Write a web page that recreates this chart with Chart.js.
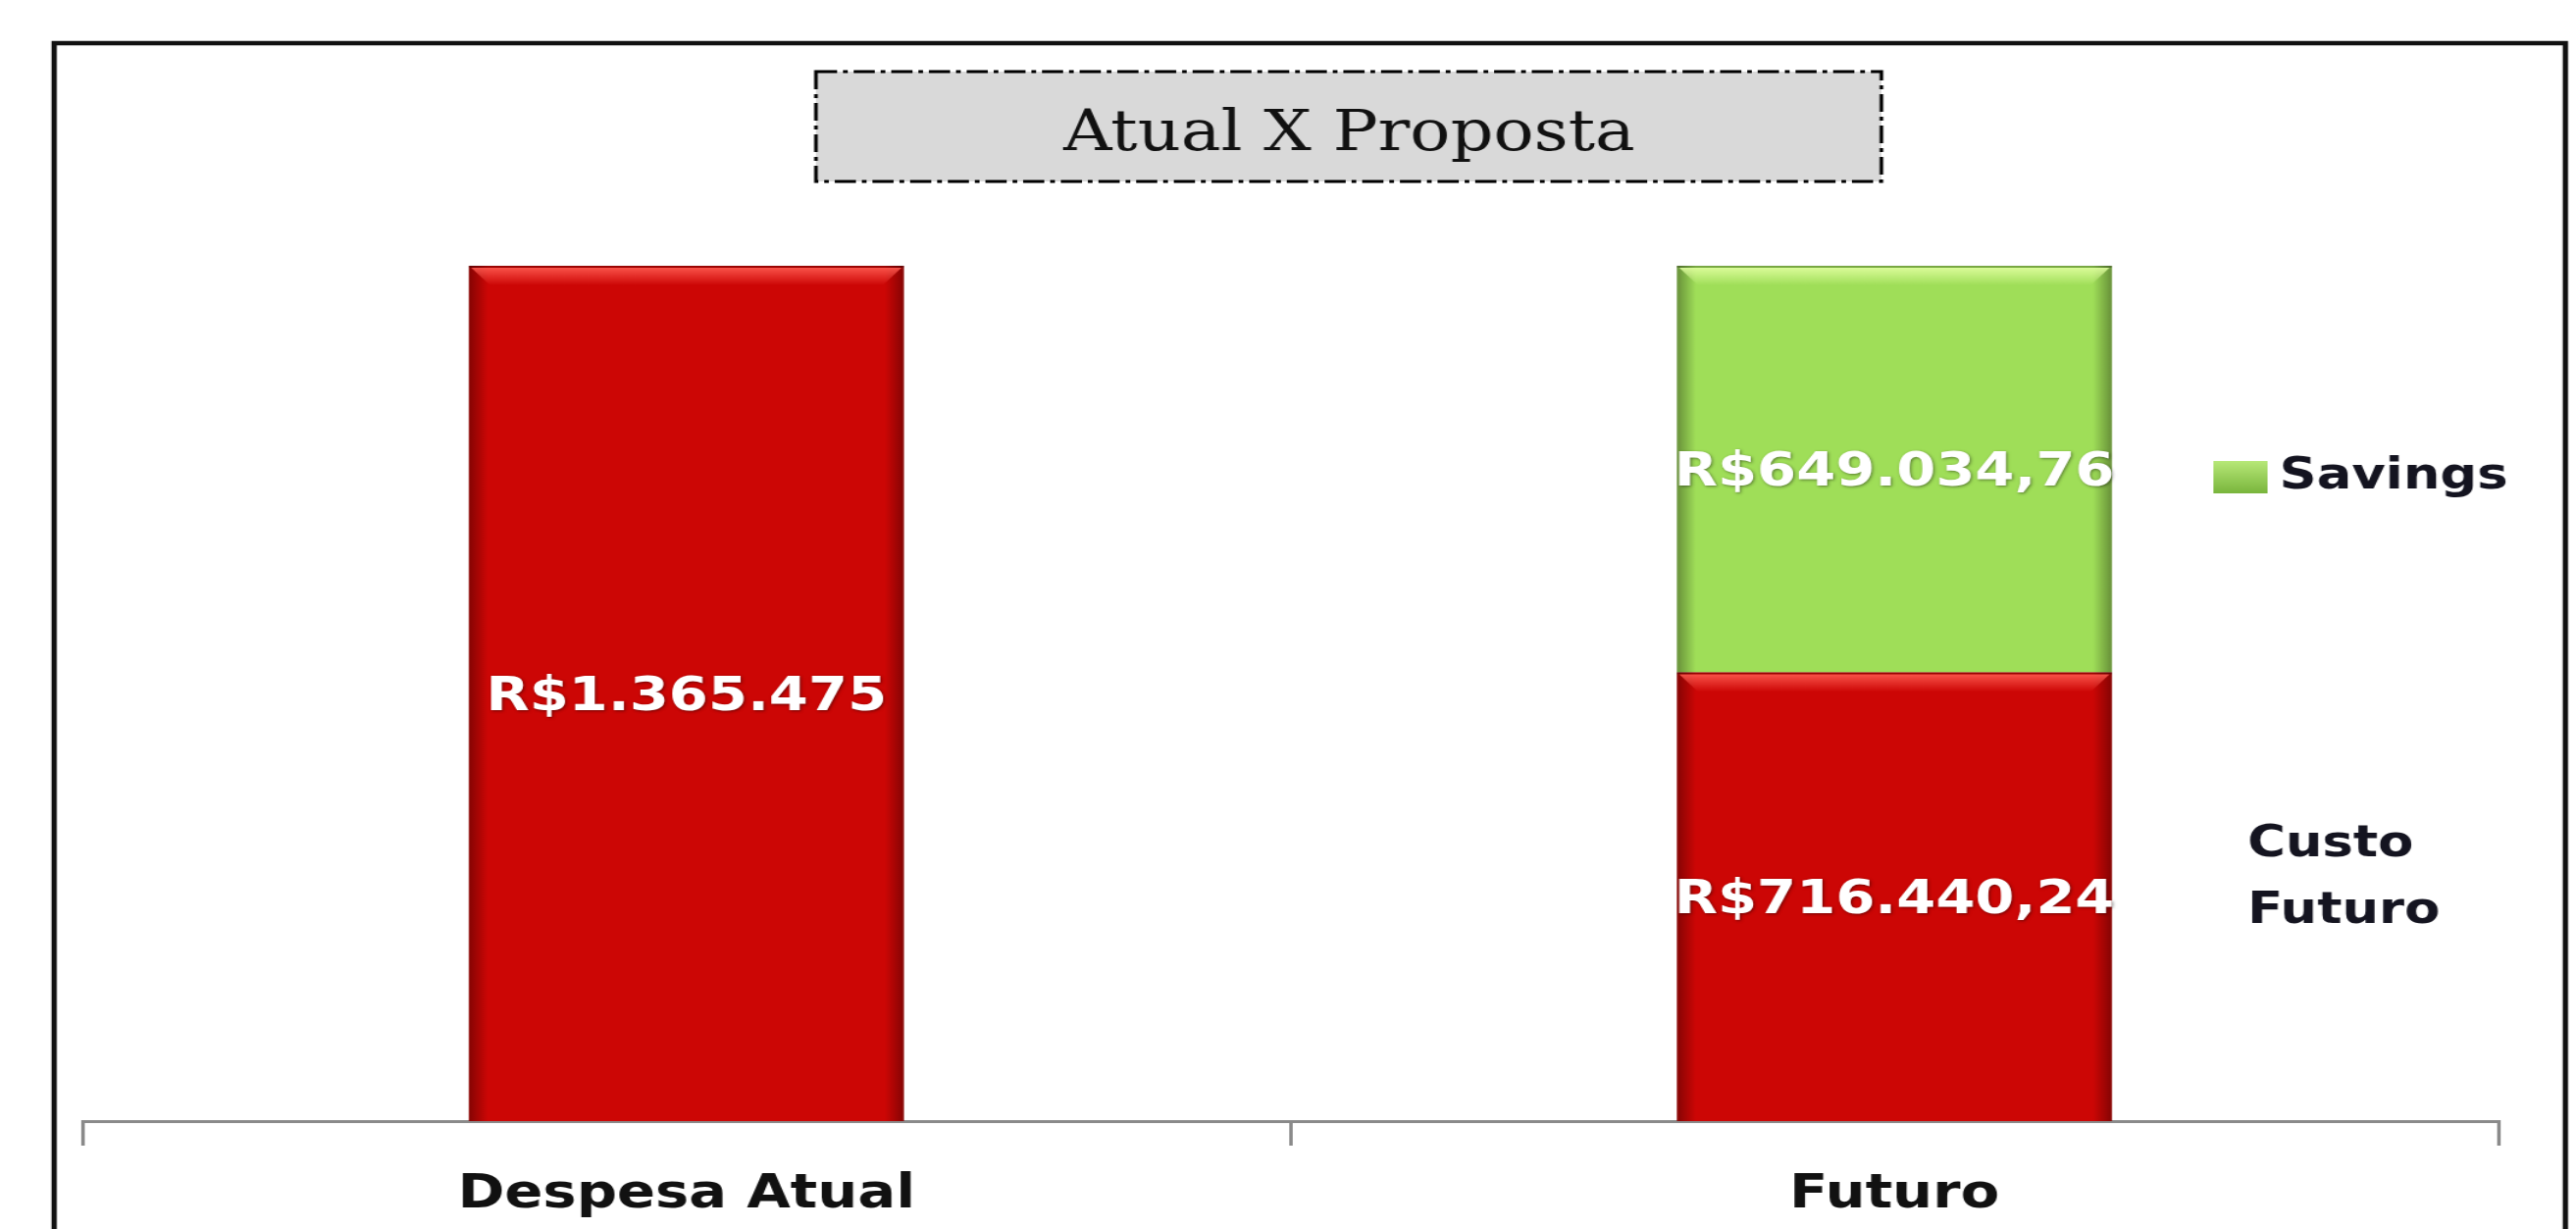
<!DOCTYPE html>
<html>
<head>
<meta charset="utf-8">
<title>Atual X Proposta</title>
<script src="https://cdn.jsdelivr.net/npm/chart.js@4.4.1/dist/chart.umd.min.js"></script>
<style>
  html, body { margin: 0; padding: 0; background: #fff; }
  /* the original picture is stretched sideways, so the canvas is too */
  #chart { display: block; width: 2626px !important; height: 1253px !important; }
</style>
</head>
<body>
<canvas id="chart" width="2188" height="1253" style="width:2626px;height:1253px"></canvas>
<script>
const categories = ['Despesa Atual', 'Futuro'];
const custoFuturo = [1365475, 716440.24];
const savings = [null, 649034.76];
const custoLabels = ['R$1.365.475', 'R$716.440,24'];
const savingsLabels = [null, 'R$649.034,76'];
const chartTitle = 'Atual X Proposta';

const RED = '#cc0605';
const GREEN = '#9fde58';

// outer frame + grey title box, drawn behind the chart
const framePlugin = {
  id: 'frame',
  beforeDraw(chart) {
    const ctx = chart.ctx;
    ctx.save();
    ctx.fillStyle = '#fff';
    ctx.fillRect(0, 0, chart.width, chart.height);
    ctx.strokeStyle = '#111';
    ctx.lineWidth = 4.5;
    ctx.strokeRect(46, 44, 2179 - 46, 1300);

    // title box
    ctx.fillStyle = '#d9d9d9';
    ctx.fillRect(693, 73, 905, 112);
    ctx.setLineDash([18, 5, 4, 5]);
    ctx.lineWidth = 3;
    ctx.strokeStyle = '#000';
    ctx.strokeRect(693, 73, 905, 112);
    ctx.setLineDash([]);
    ctx.fillStyle = '#111';
    ctx.font = '57px "DejaVu Serif"';
    ctx.textAlign = 'center';
    ctx.textBaseline = 'alphabetic';
    ctx.fillText(chartTitle, 1146, 153);
    ctx.restore();
  }
};

// bevel look of the Excel bars + value labels
const barPlugin = {
  id: 'barDeco',
  afterDatasetsDraw(chart) {
    const ctx = chart.ctx;
    const highlights = ['rgba(255,90,80,', 'rgba(225,255,160,'];
    chart.data.datasets.forEach((ds, i) => {
      const meta = chart.getDatasetMeta(i);
      meta.data.forEach((el, j) => {
        if (ds.data[j] == null) return;
        const left = el.x - el.width / 2;
        const right = el.x + el.width / 2;
        const top = el.y;
        const bottom = el.base;
        ctx.save();
        let g = ctx.createLinearGradient(left, 0, left + 16, 0);
        g.addColorStop(0, 'rgba(0,0,0,0.35)');
        g.addColorStop(1, 'rgba(0,0,0,0)');
        ctx.fillStyle = g;
        ctx.fillRect(left, top, 16, bottom - top);
        g = ctx.createLinearGradient(right - 16, 0, right, 0);
        g.addColorStop(0, 'rgba(0,0,0,0)');
        g.addColorStop(1, 'rgba(0,0,0,0.35)');
        ctx.fillStyle = g;
        ctx.fillRect(right - 16, top, 16, bottom - top);
        // top highlight
        const h = highlights[i];
        g = ctx.createLinearGradient(0, top, 0, top + 20);
        g.addColorStop(0, h + '1)');
        g.addColorStop(1, h + '0)');
        ctx.fillStyle = g;
        ctx.beginPath();
        ctx.moveTo(left + 2, top + 2);
        ctx.lineTo(right - 2, top + 2);
        ctx.lineTo(right - 18, top + 20);
        ctx.lineTo(left + 18, top + 20);
        ctx.closePath();
        ctx.fill();
        ctx.fillStyle = 'rgba(0,0,0,0.25)';
        ctx.fillRect(left, top, right - left, 2);
        ctx.restore();

        // value label
        const text = ds.valueLabels[j];
        if (!text) return;
        ctx.save();
        ctx.font = 'bold 48px "DejaVu Sans"';
        ctx.textAlign = 'center';
        ctx.textBaseline = 'alphabetic';
        ctx.shadowColor = 'rgba(0,0,0,0.45)';
        ctx.shadowBlur = 3;
        ctx.shadowOffsetX = 1;
        ctx.shadowOffsetY = 1;
        ctx.fillStyle = '#fff';
        ctx.fillText(text, el.x, (top + bottom) / 2 + 17);
        ctx.restore();
      });
    });
  }
};

// legend on the right, as in the reference
const legendPlugin = {
  id: 'sideLegend',
  afterDraw(chart) {
    const ctx = chart.ctx;
    ctx.save();
    const g = ctx.createLinearGradient(0, 470, 0, 503);
    g.addColorStop(0, '#b7e878');
    g.addColorStop(1, '#79b53c');
    ctx.fillStyle = g;
    ctx.fillRect(1880, 470, 46, 33);
    ctx.fillStyle = '#141420';
    ctx.font = 'bold 44px "DejaVu Sans"';
    ctx.textAlign = 'left';
    ctx.textBaseline = 'alphabetic';
    ctx.fillText(chart.data.datasets[1].label, 1936, 498);
    const parts = chart.data.datasets[0].label.split(' ');
    ctx.fillText(parts[0], 1909, 873);
    ctx.fillText(parts[1], 1909, 941);
    ctx.restore();
  }
};

new Chart(document.getElementById('chart'), {
  type: 'bar',
  data: {
    labels: categories,
    datasets: [
      { label: 'Custo Futuro', data: custoFuturo, valueLabels: custoLabels, backgroundColor: RED },
      { label: 'Savings', data: savings, valueLabels: savingsLabels, backgroundColor: GREEN }
    ]
  },
  options: {
    responsive: false,
    devicePixelRatio: 1,
    animation: false,
    layout: { padding: { left: 70, right: 66, top: 185, bottom: 0 } },
    plugins: {
      legend: { display: false },
      title: { display: false },
      tooltip: { enabled: false }
    },
    datasets: {
      bar: { categoryPercentage: 1, barPercentage: 0.36 }
    },
    scales: {
      x: {
        stacked: true,
        afterFit: (scale) => { scale.height = 110; },
        grid: {
          drawOnChartArea: false,
          drawTicks: true,
          tickLength: 25,
          color: '#8a8a8a',
          lineWidth: 3
        },
        border: { display: true, color: '#8a8a8a', width: 3 },
        ticks: {
          color: '#111',
          padding: 22,
          font: { family: 'DejaVu Sans', weight: 'bold', size: 48 }
        }
      },
      y: {
        stacked: true,
        display: false,
        min: 0,
        max: 1500000
      }
    }
  },
  plugins: [framePlugin, barPlugin, legendPlugin]
});
</script>
</body>
</html>
